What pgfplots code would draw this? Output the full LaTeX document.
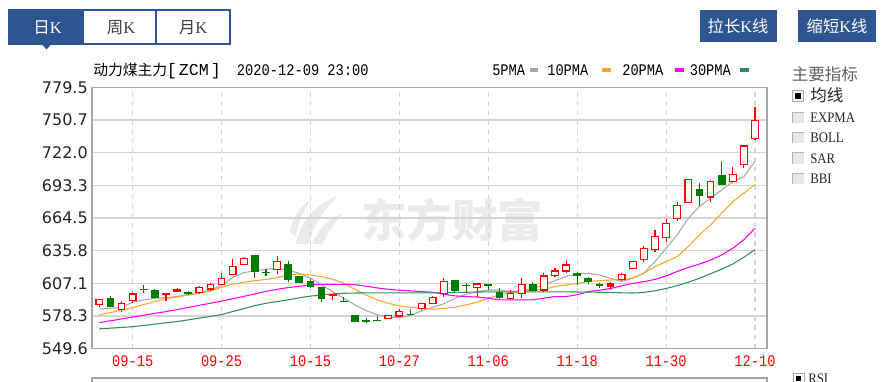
\documentclass[border=0pt]{standalone}
\usepackage{fontspec}
\usepackage{pgfplots}
\usepackage{pgfplotstable}
\pgfplotsset{compat=1.18}
\setmainfont{Liberation Serif}
\newfontfamily\cjk{Noto Sans CJK SC}
\newfontfamily\monoc[FakeStretch=0.85]{Liberation Mono}
\newfontfamily\mono{Liberation Mono}
\newfontfamily\dejavu{DejaVu Sans}
\newfontfamily\serifc[FakeStretch=0.88]{Liberation Serif}
\definecolor{tabblue}{HTML}{2E5591}
\definecolor{upred}{HTML}{FF0000}
\definecolor{dngreen}{HTML}{007D00}
\definecolor{maA}{HTML}{A8A8A8}
\definecolor{maB}{HTML}{F5A82A}
\definecolor{maC}{HTML}{FF00FF}
\definecolor{maD}{HTML}{2F8F5B}
\definecolor{gridc}{HTML}{D4D4D4}
\definecolor{framec}{HTML}{A6A6A6}
\definecolor{txt}{HTML}{222233}
\definecolor{wm}{HTML}{EBEBEB}
\pgfdeclareplotmark{nomark}{}

\pgfplotstableread{
i O H L C t
0 588.1 593.5 586.6 593.0 0
1 594.0 596.3 586.0 586.6 1
2 583.7 591.6 582.2 589.5 0
3 591.9 599.8 589.5 597.7 0
4 601.5 605.6 598.3 601.9 0
5 600.4 601.8 594.0 594.5 1
6 597.0 598.0 591.9 598.0 0
7 599.5 603.3 599.0 601.2 2
8 598.5 600.0 597.0 598.2 1
9 598.9 604.8 597.7 603.6 0
10 602.1 607.7 600.4 606.2 0
11 606.2 615.9 605.8 611.5 0
12 615.0 628.2 614.5 621.7 0
13 623.8 630.0 623.2 629.1 0
14 631.1 631.5 612.1 617.4 1
15 616.8 619.4 613.6 616.3 1
16 619.4 631.1 615.3 626.1 0
17 623.2 627.0 608.6 610.6 1
18 613.0 613.6 607.0 607.7 1
19 608.6 610.6 602.7 604.2 1
20 603.3 604.0 591.0 593.9 1
21 596.6 597.0 592.2 597.0 0
22 591.3 595.4 591.0 591.0 1
23 578.3 579.0 573.5 573.9 1
24 574.2 576.4 571.8 573.8 1
25 574.6 578.6 574.2 574.3 1
26 575.9 578.9 575.5 578.5 0
27 578.3 584.2 578.0 582.2 0
28 579.8 584.2 579.3 579.6 1
29 585.1 590.0 583.5 589.5 0
30 589.5 596.0 588.9 594.5 0
31 598.3 612.1 595.4 608.6 0
32 609.2 610.0 598.9 601.2 1
33 605.5 607.1 598.9 605.2 1
34 603.6 607.7 595.4 606.5 0
35 606.2 606.8 601.2 605.3 1
36 599.2 603.3 593.0 594.5 1
37 593.9 601.2 592.5 598.3 0
38 598.3 612.1 594.5 606.2 0
39 605.6 608.6 600.7 601.2 1
40 601.2 615.9 599.8 613.5 0
41 613.9 620.3 612.9 617.9 0
42 617.9 627.6 615.9 623.2 0
43 615.9 617.4 605.6 614.2 1
44 611.5 612.5 606.5 608.6 1
45 606.2 607.7 602.7 605.3 1
46 603.9 608.6 601.5 606.5 2
47 610.2 616.5 609.2 614.9 0
48 620.2 626.8 619.8 626.6 0
49 627.8 639.5 625.9 637.6 0
50 636.8 654.0 634.6 648.5 0
51 647.1 663.5 643.1 659.7 0
52 664.2 678.3 662.1 675.2 0
53 677.9 698.7 677.9 698.7 0
54 689.9 695.2 674.7 684.2 1
55 683.0 698.4 679.0 696.6 0
56 701.7 715.0 694.0 694.5 1
57 696.6 709.8 695.3 703.1 0
58 712.0 727.9 708.2 727.9 0
59 734.6 762.4 733.1 750.1 0
}\candles

\pgfplotstableread{
i m5 m10 m20 m30
0 584.3 579.3 572.5 567.0
1 585.1 581.3 574.1 567.6
2 586.0 583.4 575.7 568.2
3 590.4 585.7 577.4 568.9
4 592.5 588.4 579.0 570.0
5 593.9 591.0 580.6 571.1
6 594.5 593.6 582.2 572.3
7 595.4 595.1 583.9 573.4
8 597.4 596.6 585.8 574.9
9 599.2 598.3 587.7 576.4
10 601.2 600.1 589.5 577.9
11 605.0 603.6 591.4 579.6
12 612.1 606.2 593.5 582.2
13 616.5 608.0 595.6 584.8
14 617.9 609.4 597.7 587.4
15 619.4 610.4 600.0 589.5
16 620.3 612.1 601.8 591.0
17 618.5 614.4 603.3 592.5
18 615.9 615.3 604.5 594.3
19 611.5 614.4 605.6 595.8
20 605.6 613.0 606.2 596.8
21 599.8 610.6 606.2 597.7
22 593.9 607.1 606.2 598.3
23 588.1 601.8 605.9 598.5
24 583.0 596.8 604.5 598.6
25 579.5 592.5 603.0 598.6
26 577.2 589.5 601.8 598.6
27 577.0 587.2 601.0 598.6
28 578.8 586.0 600.4 598.6
29 582.8 585.1 599.8 598.6
30 586.0 584.2 599.2 598.6
31 589.0 585.0 597.5 598.8
32 593.9 586.0 596.0 599.0
33 597.4 588.1 595.4 599.2
34 599.8 590.4 595.0 599.4
35 601.2 593.9 594.0 599.5
36 601.2 596.8 592.5 599.5
37 599.8 598.9 592.5 599.5
38 600.4 599.8 592.5 599.5
39 602.7 601.2 592.5 599.5
40 605.6 601.8 594.0 599.5
41 609.4 604.2 595.4 599.5
42 613.0 605.6 595.4 599.5
43 615.3 607.1 597.0 599.4
44 615.9 608.6 599.8 599.3
45 614.4 609.4 601.0 599.2
46 611.5 610.0 602.5 599.0
47 608.6 610.1 604.8 598.7
48 611.6 611.6 607.0 598.5
49 616.0 616.0 608.5 599.0
50 626.2 621.8 610.5 600.5
51 637.9 626.2 613.5 602.5
52 649.7 630.6 617.5 605.0
53 664.3 639.4 621.0 608.0
54 674.6 649.7 624.0 611.5
55 681.9 658.4 627.5 615.5
56 689.2 668.7 632.0 619.5
57 696.5 678.9 637.9 624.0
58 700.9 686.3 645.5 630.0
59 714.7 694.2 655.6 636.8
}\mas

\begin{document}
\begin{tikzpicture}
\path[use as bounding box] (0,0) rectangle (666.75pt,286.5pt);
\begin{scope}[x=0.75pt,y=-0.75pt,yshift=286.5pt]
  % tabs
  \fill[tabblue] (9.3,10) rectangle (83.3,44.3);
  \draw[tabblue,line width=1.5pt] (9.3,10) rectangle (230,44.3);
  \draw[tabblue,line width=1.5pt] (83.3,10) -- (83.3,44.3) (155.7,10) -- (155.7,44.3);
  \fill[tabblue] (41.5,44) -- (51.5,44) -- (46.5,49.5) -- cycle;
  \node[text=white,font=\fontsize{12.4pt}{14pt}\cjk,inner sep=0] at (47.5,27.5) {日\textrm{K}};
  \node[text=black!75,font=\fontsize{12.4pt}{14pt}\cjk,inner sep=0] at (121,27.5) {周\textrm{K}};
  \node[text=black!75,font=\fontsize{12.4pt}{14pt}\cjk,inner sep=0] at (193,27.5) {月\textrm{K}};
  % buttons
  \fill[tabblue] (699.5,10) rectangle (776.5,42);
  \node[text=white,font=\fontsize{12.2pt}{14pt}\cjk,inner sep=0] at (738,26.5) {拉长\textrm{K}线};
  \fill[tabblue] (798,10) rectangle (876,42);
  \node[text=white,font=\fontsize{12.2pt}{14pt}\cjk,inner sep=0] at (837,26.5) {缩短\textrm{K}线};
  % title
  \node[anchor=base west,inner sep=0,font=\fontsize{11.1pt}{13pt}\cjk] at (93,76) {动力煤主力};
  \node[anchor=base west,inner sep=0,font=\fontsize{12.5pt}{15pt}\mono] at (166.5,76) {[\hspace{1.5pt}ZCM\hspace{1.5pt}]};
  \node[anchor=base west,inner sep=0,font=\fontsize{12.1pt}{15pt}\monoc] at (236.7,76) {2020-12-09 23:00};
  % legend
  \node[anchor=base west,inner sep=0,font=\fontsize{12.1pt}{15pt}\monoc] at (492,76) {5PMA};
  \fill[maA] (530,68.5) rectangle (538,72.5);
  \node[anchor=base west,inner sep=0,font=\fontsize{12.1pt}{15pt}\monoc] at (547,76) {10PMA};
  \fill[maB] (602,68.5) rectangle (611,72.5);
  \node[anchor=base west,inner sep=0,font=\fontsize{12.1pt}{15pt}\monoc] at (622,76) {20PMA};
  \fill[maC] (675,68.5) rectangle (683.5,72.5);
  \node[anchor=base west,inner sep=0,font=\fontsize{12.1pt}{15pt}\monoc] at (689.5,76) {30PMA};
  \fill[maD] (740,68.5) rectangle (748.5,72.5);
  % right panel
  \node[anchor=base west,inner sep=0,font=\fontsize{12.4pt}{14pt}\cjk,text=black!62] at (791.5,81) {主要指标};
  % checked box
  \fill[white] (792.7,90.5) rectangle (803.7,101.5);
  \draw[black!35,line width=0.6pt] (792.7,90.5) rectangle (803.7,101.5);
  \fill[black] (795.4,93.2) rectangle (801,98.8);
  \node[anchor=base west,inner sep=0,font=\fontsize{12.4pt}{14pt}\cjk,text=black!85] at (810,101.5) {均线};
  \foreach \yy/\lab in {117.5/EXPMA,137.8/BOLL,158.3/SAR,178.8/BBI}{
    \fill[black!9] (792.7,\yy-5.5) rectangle (803.7,\yy+5.5);
    \draw[black!30,line width=0.7pt] (792.7,\yy+5.5) -- (792.7,\yy-5.5) -- (803.7,\yy-5.5);
    \node[anchor=base west,inner sep=0,font=\fontsize{10.9pt}{13pt}\serifc,text=black!85] at (810,\yy+4.8) {\lab};
  }
  % bottom panel
  \draw[framec,line width=1pt] (92,400) -- (92,378) -- (767,378) -- (767,400);
  \fill[white] (793,373) rectangle (804,384);
  \draw[black!35,line width=0.6pt] (793,373) rectangle (804,384);
  \fill[black] (795.7,375.7) rectangle (801.3,381.3);
  \node[anchor=base west,inner sep=0,font=\fontsize{10.9pt}{13pt}\serifc,text=black!85] at (808,384) {RSI};
  % watermark
  \node[font=\fontsize{34pt}{36pt}\cjk\bfseries,text=wm,inner sep=0] at (452,220) {东方财富};
  \fill[wm] (296,244) .. controls (300,222) and (315,204) .. (338,196) .. controls (322,212) and (312,228) .. (309,244) -- cycle;
  \fill[wm] (312,244) .. controls (318,228) and (330,218) .. (342,214) .. controls (334,224) and (326,234) .. (323,244) -- cycle;
  \fill[wm] (290,232) .. controls (292,218) and (300,206) .. (312,198) .. controls (304,210) and (298,222) .. (296,236) -- cycle;
\end{scope}

\begin{axis}[
  at={(69pt,25.05pt)}, anchor=south west, scale only axis,
  width=506.25pt, height=195.9pt,
  xmin=-0.66, xmax=60.08, ymin=549.6, ymax=779.5,
  axis line style={draw=framec, line width=1.1pt},
  xtick={3,11,19,27,35,43,51,59},
  xticklabels={09-15,09-25,10-15,10-27,11-06,11-18,11-30,12-10},
  ytick={549.6,578.3375,607.075,635.8125,664.55,693.2875,722.025,750.7625,779.5},
  yticklabels={549.6,578.3,607.1,635.8,664.5,693.3,722.0,750.7,779.5},
  major tick length=0pt,
  tick style={draw=none},
  xmajorgrids, ymajorgrids,
  every axis x grid/.append style={draw=gridc, line width=0.8pt, dash pattern=on 3.5pt off 3.5pt},
  every axis y grid/.append style={draw=gridc, line width=0.85pt},
  xticklabel style={font=\fontsize{12.1pt}{15pt}\monoc, text=upred, inner sep=0pt, anchor=north, yshift=-5pt},
  yticklabel style={font=\fontsize{12pt}{14pt}\dejavu, text=txt, inner sep=0pt, anchor=east, xshift=-3pt},
]
\addplot[scatter, only marks, mark=nomark, point meta=y,
  visualization depends on={\thisrow{H}-\thisrow{C} \as \dH},
  visualization depends on={\thisrow{L}-\thisrow{C} \as \dL},
  visualization depends on={\thisrow{O}-\thisrow{C} \as \dO},
  visualization depends on={\thisrow{t} \as \ct},
  scatter/@pre marker code/.code={%
    \ifdim\ct pt<0.5pt\relax \def\cc{upred}\def\cf{white}%
    \else\ifdim\ct pt<1.5pt\relax \def\cc{dngreen}\def\cf{dngreen}%
    \else \def\cc{upred}\def\cf{upred}\fi\fi
    \draw[draw=\cc, line width=0.8pt] (axis direction cs:0,\dH) -- (axis direction cs:0,\dL);
    \filldraw[draw=\cc, fill=\cf, line width=0.85pt] (axis direction cs:-0.3,\dO) rectangle (axis direction cs:0.3,0);
  },
  scatter/@post marker code/.code={},
] table[x=i,y=C] {\candles};
\addplot[maA, line width=0.8pt, mark=none] table[x=i,y=m5] {\mas};
\addplot[maB, line width=0.8pt, mark=none] table[x=i,y=m10] {\mas};
\addplot[maC, line width=0.8pt, mark=none] table[x=i,y=m20] {\mas};
\addplot[maD, line width=0.8pt, mark=none] table[x=i,y=m30] {\mas};
\end{axis}
\end{tikzpicture}
\end{document}
